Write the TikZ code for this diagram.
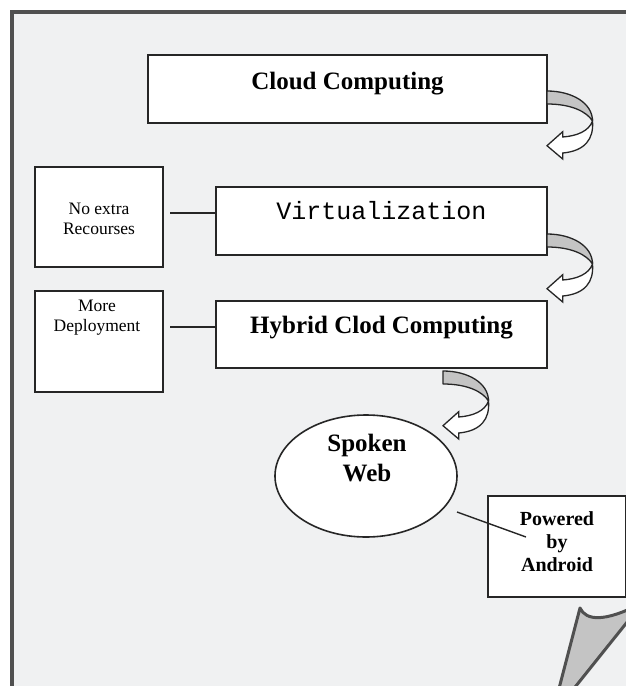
\documentclass[tikz,border=0pt]{standalone}
\usepackage{fontspec}
\setmainfont{Liberation Serif}
\setmonofont{Liberation Mono}
\usetikzlibrary{shapes.geometric}
\definecolor{boxc}{HTML}{262626}
\definecolor{framec}{HTML}{505050}
\definecolor{pagebg}{HTML}{F0F1F2}
\definecolor{ribgray}{HTML}{C4C4C4}
\begin{document}
\begin{tikzpicture}[x=1pt,y=-1pt,
  boxst/.style={draw=boxc, line width=1.6pt, fill=white, rectangle, inner sep=0pt},
  ellst/.style={draw=boxc, line width=1.6pt, fill=white, ellipse, inner sep=0pt},
  bigbold/.style={font=\bfseries\fontsize{25}{30}\selectfont, inner sep=0pt, align=center},
  smalltxt/.style={font=\fontsize{17.5}{20}\selectfont, inner sep=0pt, align=center},
  medbold/.style={font=\bfseries\fontsize{20}{23}\selectfont, inner sep=0pt, align=center},
  monotxt/.style={font=\ttfamily\fontsize{25}{30}\selectfont, inner sep=0pt},
  conn/.style={draw=boxc, line width=1.4pt},
  ribbon/.pic={
    \filldraw[fill=ribgray, draw=boxc, line width=1.3pt, line join=round]
      (0,0) .. controls (25,0) and (45.5,12) .. (45.5,30)
      .. controls (40,21) and (25,13) .. (0,13) -- cycle;
    \filldraw[fill=white, draw=boxc, line width=1.3pt, line join=miter]
      (45.5,30) .. controls (47,48) and (38,60) .. (15.7,62)
      -- (15.7,68) -- (0,54.7) -- (15.7,40.7) -- (15.7,46)
      .. controls (30,45) and (42,40) .. (45.5,30) -- cycle;
  }]
\useasboundingbox (0,0) rectangle (626,686);
\clip (0,0) rectangle (626,686);
\fill[white] (0,0) rectangle (626,686);
\fill[pagebg] (12,12) rectangle (640,700);
\draw[framec, line width=3.4pt] (12,700) -- (12,12) -- (640,12);

% boxes
\node[boxst, minimum width=399pt, minimum height=68pt] (cc) at (347.5,89) {};
\node[bigbold] (cct) at (347.5,83.5) {Cloud Computing};

\node[boxst, minimum width=331pt, minimum height=68pt] (virt) at (381.5,221) {};
\node[monotxt] (virtt) at (381.5,211) {Virtualization};

\node[boxst, minimum width=331pt, minimum height=67pt] (hyb) at (381.5,334.5) {};
\node[bigbold] (hybt) at (381.5,328) {Hybrid Clod Computing};

\node[boxst, minimum width=128pt, minimum height=100pt] (ner) at (99,217) {};
\node[smalltxt] (nert) at (99,219) {No extra\\Recourses};

\node[boxst, minimum width=128pt, minimum height=101pt] (dep) at (99,341.5) {};
\node[smalltxt] (dept) at (97,318) {More\\Deployment};

\node[ellst, minimum width=182pt, minimum height=122pt] (sw) at (366,476) {};
\node[bigbold] (swt) at (367,458) {Spoken\\Web};

\node[boxst, minimum width=138pt, minimum height=101pt] (pba) at (557,546.5) {};
\node[medbold] (pbat) at (557,542) {Powered\\by\\Android};

% connectors
\coordinate (l1) at (170,213);
\draw[conn] (l1) -- (l1 -| virt.west);
\coordinate (l2) at (170,327);
\draw[conn] (l2) -- (l2 -| hyb.west);
\coordinate (l3a) at (457,512);
\coordinate (l3b) at (526,537);
\draw[conn] (l3a) -- (l3b);

% curved ribbon arrows
\pic at (547,91) {ribbon};
\pic at (547,234) {ribbon};
\pic at (443,371) {ribbon};

% page curl
\filldraw[fill=ribgray, draw=framec, line width=3pt, line join=round]
  (556,700) -- (580,608) .. controls (586,621) and (605,622) .. (640,604)
  -- (640,606) -- (564.7,700) -- cycle;
\end{tikzpicture}
\end{document}
